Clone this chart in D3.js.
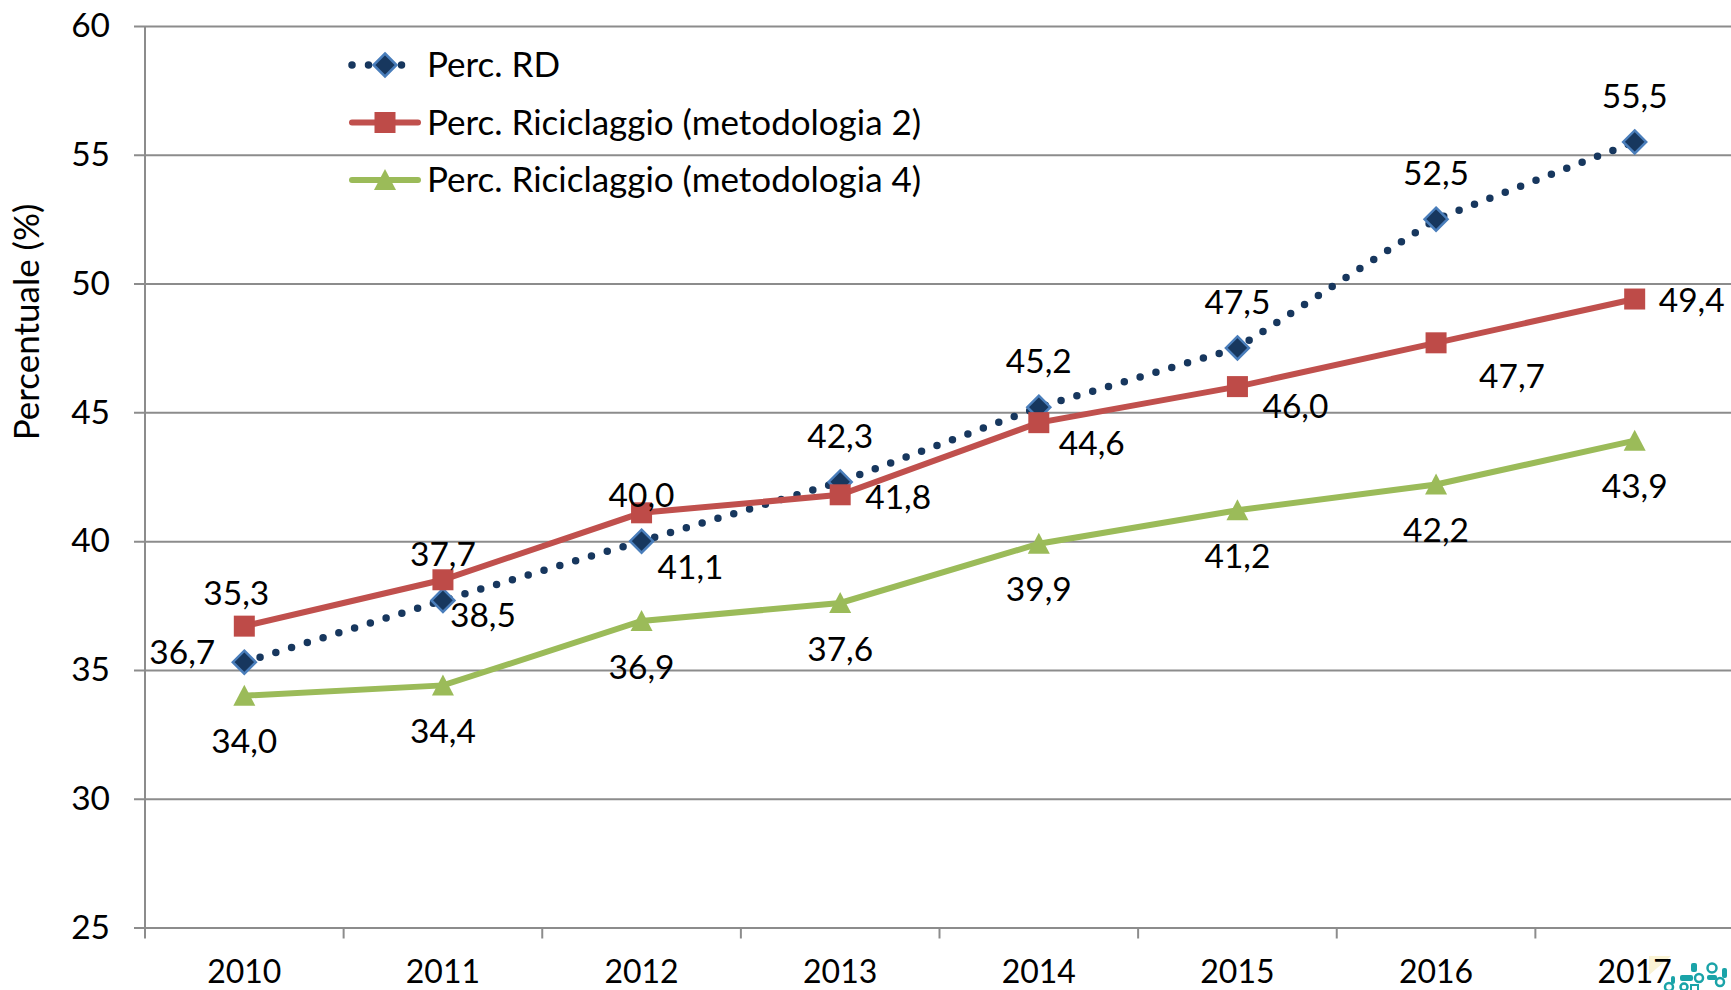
<!DOCTYPE html>
<html>
<head>
<meta charset="utf-8">
<script src="https://cdn.jsdelivr.net/npm/d3@7"></script>
<style>
  body { margin: 0; background: #fff; }
  svg { display: block; }
  text { font-family: Lato, sans-serif; fill: #000; }
  .domain { display: none; }
  .axis line, .axis-line { stroke: #8c8c8c; stroke-width: 2px; }
</style>
</head>
<body>
<svg id="chart" width="1731" height="990"></svg>
<script>
const years = ['2010', '2011', '2012', '2013', '2014', '2015', '2016', '2017']
const percRD = [35.3, 37.7, 40.0, 42.3, 45.2, 47.5, 52.5, 55.5]
const percMet2 = [36.7, 38.5, 41.1, 41.8, 44.6, 46.0, 47.7, 49.4]
const percMet4 = [34.0, 34.4, 36.9, 37.6, 39.9, 41.2, 42.2, 43.9]
const yTicks = [25, 30, 35, 40, 45, 50, 55, 60]

// manual label placement, as in the source chart: [dx, dy] from the point
const above = [0, -46], below = [0, 46]
const nudgeRD = [[-8, -69], above, above, above, above, above, above, above]
const nudgeMet2 = [[-62, 26], [40, 35], [49, 54], [58, 2], [53, 21], [58, 20], [76, 33], [57, 1]]
const nudgeMet4 = [below, below, below, below, below, below, below, below]

const series = [
  {name: 'Perc. RD', values: percRD, nudge: nudgeRD, color: '#17375e', marker: 'diamond', dotted: true},
  {name: 'Perc. Riciclaggio (metodologia 2)', values: percMet2, nudge: nudgeMet2, color: '#c0504d', marker: 'square'},
  {name: 'Perc. Riciclaggio (metodologia 4)', values: percMet4, nudge: nudgeMet4, color: '#9bbb59', marker: 'triangle'}
]

const frame = {left: 145, right: 1734, top: 26, bottom: 927.5}
const fontSize = 33.5
const comma = v => v.toFixed(1).replace('.', ',')

const svg = d3.select('#chart')
const x = d3.scaleBand().domain(years).range([frame.left, frame.right])
const y = d3.scaleLinear().domain([25, 60]).range([frame.bottom, frame.top])

// logo corner at the bottom right of the source image, under the tick label
const teal = '#1aa3a8'
const logo = svg.append('g')
logo.append('path').attr('d', 'M1649,956L1671,956L1649,975Z').attr('fill', '#faf3d4')
const logoDots = [[1699, 978, 4], [1712, 968, 4.5], [1720, 982, 4], [1669, 987, 4], [1684, 987, 3.5]]
logo.selectAll('circle').data(logoDots).join('circle')
  .attr('cx', d => d[0]).attr('cy', d => d[1]).attr('r', d => d[2])
  .attr('fill', 'none').attr('stroke', teal).attr('stroke-width', 2.5)
const logoBlocks = [[1691, 963, 6, 9], [1680, 975, 13, 6], [1707, 975, 10, 5], [1722, 968, 5, 10], [1671, 976, 4, 8]]
logo.selectAll('rect').data(logoBlocks).join('rect')
  .attr('x', d => d[0]).attr('y', d => d[1]).attr('width', d => d[2]).attr('height', d => d[3])
  .attr('rx', 2).attr('fill', teal)
logo.append('rect').attr('x', 1691).attr('y', 985).attr('width', 7).attr('height', 7)
  .attr('fill', 'none').attr('stroke', teal).attr('stroke-width', 2)

const yAxis = svg.append('g').attr('class', 'axis')
  .attr('transform', `translate(${frame.left},0)`)
  .call(d3.axisLeft(y).tickValues(yTicks).tickSize(11).tickPadding(24))
yAxis.selectAll('line').attr('x2', frame.right - frame.left).attr('x1', -11)
yAxis.selectAll('text').style('font-size', fontSize + 'px').attr('font-family', null)

svg.append('line').attr('class', 'axis-line')
  .attr('x1', frame.left).attr('x2', frame.left)
  .attr('y1', frame.top).attr('y2', frame.bottom)

const xAxis = svg.append('g').attr('class', 'axis')
  .attr('transform', `translate(0,${frame.bottom})`)
  .call(d3.axisBottom(x).tickSize(0).tickPadding(33))
xAxis.selectAll('text').style('font-size', '32px').attr('font-family', null)

// category ticks sit between the years
svg.append('g').selectAll('line').data(d3.range(years.length)).join('line')
  .attr('class', 'axis-line')
  .attr('x1', i => x.range()[0] + i * x.step()).attr('x2', i => x.range()[0] + i * x.step())
  .attr('y1', frame.bottom).attr('y2', frame.bottom + 11)

svg.append('text')
  .attr('transform', `translate(39,322) rotate(-90)`)
  .attr('text-anchor', 'middle')
  .style('font-size', '35px')
  .text('Percentuale (%)')

const markers = {
  diamond: sel => sel.append('path').attr('d', 'M0,-11.5L11.5,0L0,11.5L-11.5,0Z')
    .attr('fill', '#17375e').attr('stroke', '#4a7ebb').attr('stroke-width', 2.5),
  square: sel => sel.append('rect').attr('x', -10.5).attr('y', -10.5).attr('width', 21).attr('height', 21)
    .attr('fill', '#be4b48'),
  triangle: sel => sel.append('path').attr('d', 'M0,-11L11,10L-11,10Z').attr('fill', '#9bbb59')
}

function styleLine(sel, s) {
  sel.attr('fill', 'none').attr('stroke', s.color)
  if (s.dotted) sel.attr('stroke-width', 7.5).attr('stroke-linecap', 'round').attr('stroke-dasharray', '0 16.5')
  else sel.attr('stroke-width', 6).attr('stroke-linecap', 'round')
}

const lineGen = d3.line().x((d, i) => x(years[i]) + x.bandwidth() / 2).y(d => y(d))

series.forEach(s => {
  const g = svg.append('g')
  g.append('path').attr('d', lineGen(s.values)).call(styleLine, s)
  g.selectAll('g').data(s.values).join('g')
    .attr('transform', (d, i) => `translate(${x(years[i]) + x.bandwidth() / 2},${y(d)})`)
    .each(function () { markers[s.marker](d3.select(this)) })
})

// labels go last so they stay on top of the lines
series.forEach(s => {
  svg.append('g').selectAll('text').data(s.values).join('text')
    .attr('x', (d, i) => x(years[i]) + x.bandwidth() / 2 + s.nudge[i][0])
    .attr('y', (d, i) => y(d) + s.nudge[i][1])
    .attr('dy', '0.35em')
    .attr('text-anchor', 'middle')
    .style('font-size', fontSize + 'px')
    .text(comma)
})

const legend = svg.append('g').selectAll('g').data(series).join('g')
  .attr('transform', (d, i) => `translate(349,${65 + i * 57.5})`)
legend.append('line').attr('x1', 3).attr('x2', 69)
  .each(function (s) { d3.select(this).call(styleLine, s) })
legend.append('g').attr('transform', 'translate(36,0)')
  .each(function (s) { markers[s.marker](d3.select(this)) })
legend.append('text').attr('x', 78).attr('dy', '0.35em')
  .style('font-size', '35px')
  .text(s => s.name)
</script>
</body>
</html>
